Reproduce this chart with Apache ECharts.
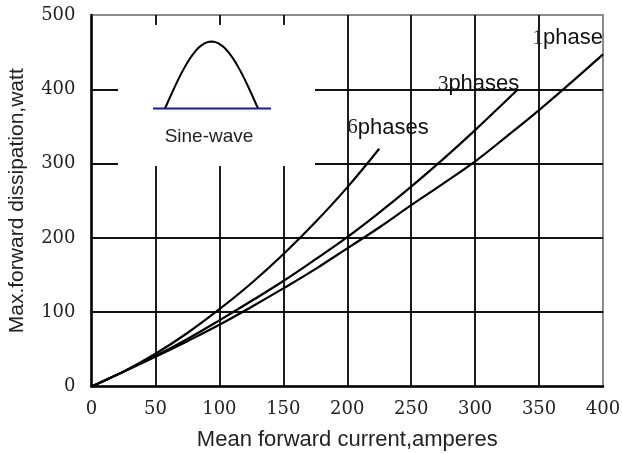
<!DOCTYPE html>
<html>
<head>
<meta charset="utf-8">
<script src="https://cdn.jsdelivr.net/npm/echarts@6/dist/echarts.min.js"></script>
<style>
  html, body { margin: 0; padding: 0; background: #fff; }
  #chart { width: 622px; height: 454px; }
</style>
</head>
<body>
<div id="chart"></div>
<script>
// Mean forward current (A) sample points and max forward dissipation (W) per rectifier connection
const onePhaseCurrent = [0, 25, 50, 75, 100, 125, 150, 175, 200, 225, 250, 275, 300, 325, 350, 375, 400];
const onePhaseWatt    = [0, 20, 40, 61, 83, 107, 132, 158, 186, 214, 244, 273, 303, 337, 372, 409, 447];

const threePhaseCurrent = [0, 25, 50, 75, 100, 125, 150, 175, 200, 225, 250, 275, 300, 325, 333];
const threePhaseWatt    = [0, 20, 41, 64, 89, 115, 142, 171, 201, 234, 269, 306, 345, 386, 399];

const sixPhaseCurrent = [0, 25, 50, 75, 100, 125, 150, 175, 200, 225];
const sixPhaseWatt    = [0, 20, 44, 72, 104, 139, 178, 221, 268, 320];

const xTicks = [0, 50, 100, 150, 200, 250, 300, 350, 400];
const yTicks = [0, 100, 200, 300, 400, 500];

const curveNames = ['1phase', '3phases', '6phases'];

const pairs = (xs, ys) => xs.map((x, i) => [x, ys[i]]);

const chart = echarts.init(document.getElementById('chart'), null, { renderer: 'canvas' });

const tickFont = { fontFamily: 'DejaVu Serif', fontSize: 18, color: '#222' };
const gridLine = { color: '#111', width: 1.9 };

function curve(name, data) {
  return {
    name: name,
    type: 'line',
    data: data,
    smooth: 0.4,
    symbol: 'none',
    z: 3,
    lineStyle: { color: '#000', width: 2.2 }
  };
}

chart.setOption({
  animation: false,
  backgroundColor: '#fff',
  grid: {
    left: 91.5, right: 19, top: 15, bottom: 67.5,
    outerBoundsMode: 'none',
    containLabel: false,
    show: true, borderColor: '#8a8a8a', borderWidth: 2, backgroundColor: 'transparent'
  },
  xAxis: {
    type: 'value',
    min: xTicks[0], max: xTicks[xTicks.length - 1], interval: 50,
    name: 'Mean forward current,amperes',
    nameLocation: 'middle', nameGap: 42,
    nameTextStyle: { fontFamily: 'Liberation Sans', fontSize: 22, color: '#222' },
    axisLine: { show: true, lineStyle: { color: '#000', width: 2.5 } },
    axisTick: { show: false },
    axisLabel: Object.assign({ margin: 14 }, tickFont),
    splitLine: { show: true, showMinLine: false, showMaxLine: false, lineStyle: gridLine }
  },
  yAxis: {
    type: 'value',
    min: yTicks[0], max: yTicks[yTicks.length - 1], interval: 100,
    name: 'Max.forward dissipation,watt',
    nameLocation: 'middle', nameGap: 64, nameRotate: 90,
    nameTextStyle: { fontFamily: 'Liberation Sans', fontSize: 21, color: '#222' },
    axisLine: { show: true, lineStyle: { color: '#000', width: 2.5 } },
    axisTick: { show: false },
    axisLabel: Object.assign({ margin: 16 }, tickFont),
    splitLine: { show: true, showMinLine: false, showMaxLine: false, lineStyle: gridLine }
  },
  series: [
    curve(curveNames[0], pairs(onePhaseCurrent, onePhaseWatt)),
    curve(curveNames[1], pairs(threePhaseCurrent, threePhaseWatt)),
    curve(curveNames[2], pairs(sixPhaseCurrent, sixPhaseWatt))
  ]
});

// Inset: half sine-wave waveform icon on a white panel
const sinePts = [];
const x0 = 165, x1 = 258, base = 108.5, amp = 67;
for (let i = 0; i <= 40; i++) {
  const t = i / 40;
  sinePts.push([x0 + (x1 - x0) * t, base - amp * Math.sin(Math.PI * t)]);
}

// Curve names placed from the end point of each curve
const lastPt = (xs, ys) => chart.convertToPixel({ gridIndex: 0 }, [xs[xs.length - 1], ys[ys.length - 1]]);
const p1 = lastPt(onePhaseCurrent, onePhaseWatt);
const p3 = lastPt(threePhaseCurrent, threePhaseWatt);
const p6 = lastPt(sixPhaseCurrent, sixPhaseWatt);

const nameRich = {
  d: { fontFamily: 'Liberation Serif', fontSize: 21, fill: '#222' },
  t: { fontFamily: 'Liberation Sans', fontSize: 22, fill: '#111' }
};
function nameText(label, x, y, align) {
  const digit = label.match(/^\d+/)[0];
  return {
    type: 'text', x: x, y: y,
    style: {
      text: '{d|' + digit + '}{t|' + label.slice(digit.length) + '}',
      rich: nameRich, align: align, verticalAlign: 'middle'
    }
  };
}

chart.setOption({
  graphic: {
    z: 1,
    elements: [
      { type: 'rect', shape: { x: 118, y: 25, width: 197, height: 141 }, style: { fill: '#fff' } },
      { type: 'polyline', shape: { points: sinePts }, style: { stroke: '#000', lineWidth: 2, fill: null } },
      { type: 'line', shape: { x1: 153, y1: base, x2: 271, y2: base }, style: { stroke: '#1c1c8a', lineWidth: 2 } },
      { type: 'text', x: 209, y: 137, style: { text: 'Sine-wave', fontFamily: 'Liberation Sans', fontSize: 19, fill: '#222', align: 'center', verticalAlign: 'middle' } },
      nameText(curveNames[0], p1[0], p1[1] - 16, 'right'),
      nameText(curveNames[1], p3[0] + 2, p3[1] - 6, 'right'),
      nameText(curveNames[2], p6[0] - 32, p6[1] - 21, 'left')
    ]
  }
});
</script>
</body>
</html>
